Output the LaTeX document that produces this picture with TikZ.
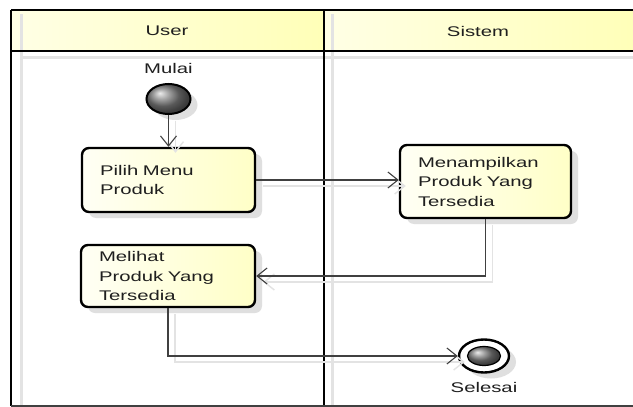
\documentclass[tikz,border=0pt]{standalone}
\usepackage{fontspec}
\setmainfont{Liberation Sans}[FakeStretch=1.45]
\usetikzlibrary{arrows.meta,shapes.geometric,shadows}

\begin{document}
\begin{tikzpicture}[x=1pt,y=-1pt,
  every node/.style={font=\fontsize{14}{19.5}\selectfont, text=black!88},
  lane/.style={line width=2.4pt, draw=black},
  laneshadow/.style={line width=3pt, draw=gray!22},
  header/.style={left color=yellow!10, right color=yellow!28},
  softshadow/.style={general shadow={fill=gray!25, shadow xshift=7pt, shadow yshift=-6pt}},
  act/.style={draw=black, line width=2.4pt, rounded corners=7pt,
    inner xsep=18pt, inner ysep=0pt, align=left,
    left color=yellow!4, right color=yellow!22, softshadow},
  flow/.style={draw=black!75, line width=1.1pt,
    -{Straight Barb[length=10pt,width=16pt,line width=1.1pt]}},
  flowshadow/.style={draw=gray!22, line width=1.4pt,
    -{Straight Barb[length=10pt,width=16pt,line width=1.4pt]},
    transform canvas={shift={(7,6)}}},
]
\useasboundingbox (0,0) rectangle (633,407);
\clip (0,0) rectangle (633,407);
\fill[white] (0,0) rectangle (633,407);

% swimlane headers
\path[header] (11,10) rectangle (324,51);
\path[header] (324,10) rectangle (640,51);

% lane shadows
\draw[laneshadow] (21,14) -- (21,406);
\draw[laneshadow] (332,14) -- (332,406);
\draw[laneshadow] (21,57) -- (640,57);

% lane borders
\draw[lane] (11,10) -- (640,10);
\draw[lane] (11,51) -- (640,51);
\draw[lane] (11,10) -- (11,406);
\draw[lane] (324,10) -- (324,406);
\draw[draw=black!75, line width=1.4pt] (11,406) -- (640,406);

% lane titles
\node (user) at (167,31) {User};
\node (sistem) at (478,31) {Sistem};

% start and end states
\node (mulai) at (168.5,68) {Mulai};
\node[ellipse, draw=black, line width=2pt, minimum width=44pt, minimum height=30pt,
  inner sep=0pt, ball color=black!50, softshadow] (start) at (168.5,99) {};

\node[ellipse, draw=black, line width=2.4pt, fill=white, minimum width=50pt,
  minimum height=33pt, inner sep=0pt, softshadow] (end) at (484,356) {};
\node[ellipse, draw=black, line width=1.2pt, ball color=black!50, minimum width=33pt,
  minimum height=19pt, inner sep=0pt] (endcore) at (end) {};
\node (selesai) at (484,387) {Selesai};

% activities
\node[act, text width=137pt, minimum height=64pt] (b1) at (168.5,180)
  {Pilih Menu\\Produk};
\node[act, text width=135pt, minimum height=73pt] (b2) at (485.5,181.5)
  {Menampilkan\\Produk Yang\\Tersedia};
\node[act, text width=138pt, minimum height=62pt] (b3) at (168,276)
  {Melihat\\Produk Yang\\Tersedia};

% control flow shadows
\draw[flowshadow] (start) -- (b1);
\draw[flowshadow] (b1.east) -- (b1.east -| b2.west);
\draw[flowshadow] (b2.south) |- (b3.east);
\draw[flowshadow] (b3.south) |- (end.west);

% control flows
\draw[flow] (start) -- (b1);
\draw[flow] (b1.east) -- (b1.east -| b2.west);
\draw[flow] (b2.south) |- (b3.east);
\draw[flow] (b3.south) |- (end.west);
\end{tikzpicture}
\end{document}
